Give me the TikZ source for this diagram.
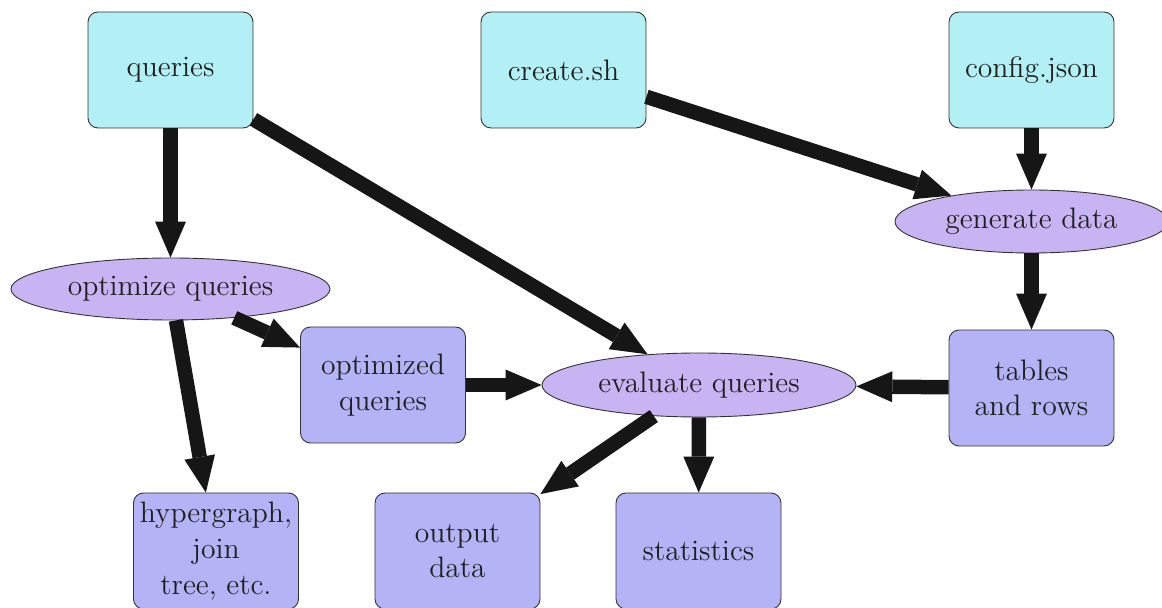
\documentclass[tikz,border=0pt]{standalone}
\usetikzlibrary{arrows.meta,shapes.geometric}
\definecolor{inputfill}{RGB}{179,240,246}
\definecolor{procfill}{RGB}{200,180,243}
\definecolor{outfill}{RGB}{179,179,245}
\definecolor{inkdark}{RGB}{22,22,22}
\newcommand{\labelfont}{\fontsize{14.8}{17.8}\selectfont}
\tikzset{
  filebox/.style={draw=black!80, line width=0.45pt, rounded corners=5pt,
    minimum width=82.5pt, minimum height=58pt, inner sep=0pt,
    align=center, font=\labelfont, text=black!88},
  inbox/.style={filebox, fill=inputfill},
  resbox/.style={filebox, fill=outfill},
  task/.style={ellipse, draw=black!80, line width=0.45pt, fill=procfill,
    inner sep=0pt, font=\labelfont, text=black!88},
  flow/.style={draw=inkdark, line width=7.25pt,
    -{Triangle[length=18pt, width=15.5pt, line width=0pt]}, inkdark},
}
\begin{document}
\begin{tikzpicture}[x=0.5pt, y=-0.5pt]
  \useasboundingbox (0,0) rectangle (1162,608);

  % inputs
  \node[inbox] (queries) at (170.5,70) {queries};
  \node[inbox] (create) at (563.5,70) {create.sh};
  \node[inbox] (config) at (1031.5,70) {config.json};

  % processing steps
  \node[task, minimum width=136.5pt, minimum height=31.5pt] (generate) at (1031.5,221.5) {generate data};
  \node[task, minimum width=159.5pt, minimum height=31pt] (optimize) at (170.5,289) {optimize queries};
  \node[task, minimum width=157pt, minimum height=32pt] (evaluate) at (699,385) {evaluate queries};

  % results
  \node[resbox] (optimized) at (383,385) {optimized\\queries};
  \node[resbox] (tables) at (1031.5,388) {tables\\and rows};
  \node[resbox] (hyper) at (216,551) {hypergraph,\\join\\tree, etc.};
  \node[resbox] (output) at (457.5,551) {output\\data};
  \node[resbox] (stats) at (698.5,551) {statistics};

  % data flow
  \draw[flow] (queries) -- (optimize);
  \draw[flow] (queries) -- (evaluate);
  \draw[flow] (create) -- (generate);
  \draw[flow] (config) -- (generate);
  \draw[flow] (generate) -- (tables);
  \draw[flow] (optimize) -- (optimized);
  \draw[flow] (optimize) -- (hyper);
  \draw[flow] (optimized) -- (evaluate);
  \draw[flow] (tables) -- (evaluate);
  \draw[flow] (evaluate) -- (output);
  \draw[flow] (evaluate) -- (stats);
\end{tikzpicture}
\end{document}
